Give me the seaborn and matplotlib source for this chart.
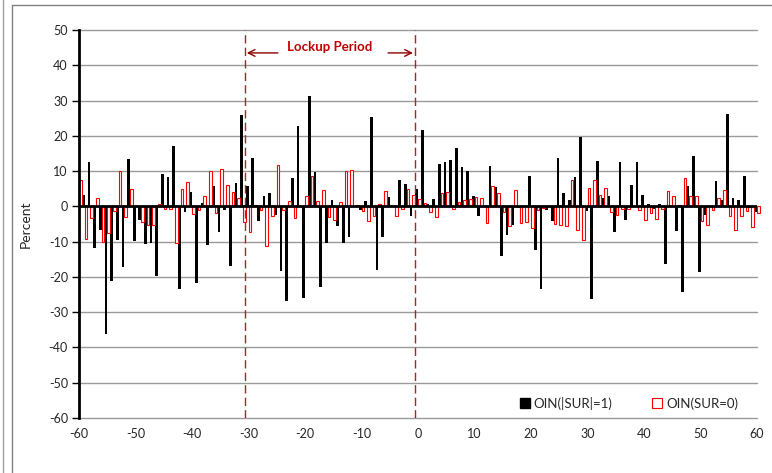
import numpy as np
import pandas as pd
import seaborn as sns
import matplotlib
matplotlib.use("Agg")
import matplotlib.pyplot as plt
from matplotlib.patches import Patch
from matplotlib.lines import Line2D

# ---- data ----
lags = list(range(-60, 61))
series_names = ["OIN(|SUR|=1)", "OIN(SUR=0)"]
oin_sur1 = [
    0.0, 3.2, 12.5, -11.9, -6.8, -36.3, -21.2, -9.6, -17.3, 13.4,
    -9.9, -4.0, -10.7, -10.4, -19.8, 9.2, 8.3, 17.0, -23.3, -1.7,
    4.0, -21.7, 0.9, -10.9, 5.7, -7.2, -1.0, -16.8, 6.6, 25.9,
    5.7, 13.7, -4.2, 2.8, 3.8, -2.4, -18.2, -26.9, 7.9, 22.8,
    -25.9, 31.4, 9.8, -23.0, -10.5, 1.7, -5.7, -10.5, -8.6, 0.0,
    -1.1, 1.4, 25.3, -18.0, -8.6, 2.6, 0.0, 7.5, 6.3, -2.8,
    4.9, 21.7, 0.7, 2.1, 11.9, 12.6, 13.2, 16.5, 11.1, 10.1,
    2.9, -2.8, 0.0, 11.5, 5.6, -14.2, -8.0, -5.2, -0.6, 0.0,
    8.7, -12.5, -23.4, -1.1, -4.2, 13.6, 3.9, 1.9, 8.3, 19.6,
    -1.2, -26.4, 12.8, 2.5, 3.0, -7.2, 12.5, -4.0, 6.0, 12.7,
    3.1, 0.7, -0.8, 0.7, -16.2, 0.0, -7.1, -24.2, 5.8, 14.2,
    -18.5, -2.5, 0.0, 7.2, 1.7, 26.2, 2.5, 1.9, 8.7, -0.4,
    -1.6,
]
oin_sur0 = [
    7.4, -9.2, -3.3, 2.4, -10.1, -7.5, -1.3, 9.9, -2.9, 4.9,
    0.0, -4.3, -5.4, -5.2, 0.6, -0.8, -0.8, -10.4, 4.9, 6.8,
    -2.2, -1.0, 2.8, 9.9, -1.9, 10.6, 6.1, 4.0, 2.5, -4.5,
    -7.2, 0.5, -1.0, -11.3, -2.6, 11.7, -1.0, 1.5, -3.4, 0.2,
    3.0, 8.7, 1.5, 4.7, -3.0, -3.9, 1.2, 10.0, 10.3, 0.4,
    -1.4, -4.2, -2.6, 0.7, 4.3, 0.5, -2.8, -0.8, 4.9, 3.2,
    2.2, 0.9, -1.6, -3.0, 3.7, 4.1, -0.8, 1.2, 1.9, 2.1,
    2.6, 2.5, -4.7, 5.7, 3.8, -1.7, -5.7, 4.7, -4.7, -4.5,
    -6.1, -0.9, -0.5, 0.0, -5.0, -5.3, -5.5, 7.4, -6.6, -9.4,
    5.1, 7.6, 3.2, 5.1, -1.5, -2.5, -0.7, -0.7, 0.0, -0.9,
    -4.0, -1.9, -3.5, -0.7, 4.3, 3.0, 0.4, 8.1, 3.0, 3.0,
    -4.2, -5.3, -0.9, 2.5, 4.7, -2.6, -6.6, -2.6, -1.3, -5.8,
    -1.9,
]
x_tick_labels = list(range(-60, 61, 10))
y_ticks = list(range(-60, 51, 10))
lockup_start, lockup_end = -30, 0

df = pd.DataFrame({
    "lag": lags * 2,
    "series": [series_names[0]] * len(lags) + [series_names[1]] * len(lags),
    "value": oin_sur1 + oin_sur0,
})

# ---- style ----
sns.set_style("white")
plt.rcParams["font.family"] = ["Lato", "DejaVu Sans"]
plt.rcParams["font.size"] = 9

W, H = 772, 473
fig = plt.figure(figsize=(W / 100, H / 100), dpi=100)
L, R, T, B = 79, 757, 30, 418
ax = fig.add_axes([L / W, 1 - B / H, (R - L) / W, (B - T) / H])

sns.barplot(data=df, x="lag", y="value", hue="series", order=lags,
            hue_order=series_names, palette=["black", "red"],
            width=0.95, dodge=True, errorbar=None, saturation=1,
            legend=False, ax=ax)

for p in ax.containers[0]:
    p.set_edgecolor("none")
    p.set_clip_on(False)
    p.set_zorder(2)
for p in ax.containers[1]:
    p.set_facecolor("white")
    p.set_edgecolor("#FF0000")
    p.set_linewidth(0.8)
    p.set_clip_on(False)
    p.set_zorder(2)

ax.set_xlim(0, len(lags) - 1)
ax.set_ylim(-60, 50)
ax.set_yticks(y_ticks)
ax.set_yticklabels([str(v) for v in y_ticks])
pos = [lags.index(v) for v in x_tick_labels]
ax.set_xticks(pos)
ax.set_xticklabels([str(v) for v in x_tick_labels])
ax.tick_params(axis="x", length=0, pad=7, labelsize=9)
ax.tick_params(axis="y", direction="out", length=5, width=1, color="black",
               pad=3, labelsize=9, left=True)
ax.set_xlabel("")
ax.set_ylabel("Percent", fontsize=10, labelpad=12)

ax.yaxis.grid(True, color="#9a9a9a", lw=1)
ax.set_axisbelow(True)
for gl in ax.get_ygridlines():
    gl.set_clip_on(False)
for s in ["top", "right", "bottom"]:
    ax.spines[s].set_visible(False)
ax.spines["left"].set_color("black")
ax.spines["left"].set_linewidth(2)
ax.spines["left"].set_zorder(5)
ax.axhline(0, color="black", lw=2, zorder=4)

# lockup period markers
def to_pos(v):
    return lags.index(v) - 0.6

for v in (lockup_start, lockup_end):
    ax.axvline(to_pos(v), color="#A0282A", lw=1, ls=(0, (6, 3)), zorder=3)

ax.text(44.4, 45.3, "Lockup Period", color="#C00000", fontweight="bold",
        fontsize=9.5, ha="center", va="center")
ax.annotate("", xy=(to_pos(lockup_start) + 0.3, 43.5), xytext=(35.2, 43.5),
            arrowprops=dict(arrowstyle="->", color="#8B0000", lw=1,
                            shrinkA=0, shrinkB=0, mutation_scale=12))
ax.annotate("", xy=(to_pos(lockup_end) - 0.3, 43.5), xytext=(54.7, 43.5),
            arrowprops=dict(arrowstyle="->", color="#8B0000", lw=1,
                            shrinkA=0, shrinkB=0, mutation_scale=12))

# legend
handles = [Patch(facecolor="black", edgecolor="black"),
           Patch(facecolor="white", edgecolor="red", lw=0.8)]
fig.legend(handles, series_names, loc="center left",
           bbox_to_anchor=(520 / W, 1 - 403 / H), ncol=2, frameon=False,
           handlelength=0.75, handleheight=0.75, handletextpad=0.3,
           columnspacing=3.0, fontsize=9.5, borderpad=0, borderaxespad=0)

# chart border
fig.add_artist(Line2D([12 / W, 1], [1 - 5 / H, 1 - 5 / H], color="#808080", lw=1))
fig.add_artist(Line2D([12 / W, 12 / W], [0, 1 - 5 / H], color="#808080", lw=1))
fig.add_artist(Line2D([3 / W, 3 / W], [0, 1], color="#a0a0a0", lw=1))

fig.savefig("out.png", dpi=100)
